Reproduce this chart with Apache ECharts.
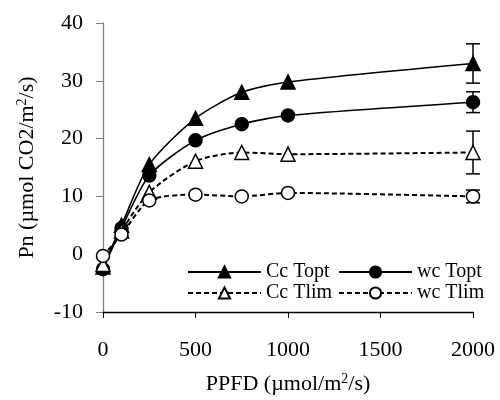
<!DOCTYPE html>
<html>
<head>
<meta charset="utf-8">
<script src="https://cdn.jsdelivr.net/npm/echarts@6/dist/echarts.min.js"></script>
<style>
html,body{margin:0;padding:0;background:#fff;}
#chart{width:500px;height:400px;}
</style>
</head>
<body>
<div id="chart"></div>
<script>
// ---- data ----
const ppfd = [0, 100, 250, 500, 750, 1000, 2000];
const ccTopt = [-2.2, 5, 15.5, 23.5, 28, 29.8, 33];
const wcTopt = [-2.6, 4.5, 13.6, 19.7, 22.5, 24, 26.3];
const ccTlim = [-1.8, 4, 10.7, 16.1, 17.6, 17.3, 17.6];
const wcTlim = [-0.3, 3.4, 9.3, 10.3, 10, 10.6, 10];
const ccToptErr = [null, null, null, null, null, null, 3.4];
const wcToptErr = [null, null, null, null, null, null, 1.8];
const ccTlimErr = [null, null, null, null, null, null, 3.7];
const wcTlimErr = [null, null, null, null, null, null, 1.1];
const seriesNames = ['Cc Topt', 'wc Topt', 'Cc Tlim', 'wc Tlim'];
const xTicks = [0, 500, 1000, 1500, 2000];
const yTicks = [-10, 0, 10, 20, 30, 40];

const FONT = 'Liberation Serif';
const pairs = v => ppfd.map((x, i) => [x, v[i]]);

const errData = [];
[[ccTopt, ccToptErr], [wcTopt, wcToptErr], [ccTlim, ccTlimErr], [wcTlim, wcTlimErr]].forEach(([v, e]) => {
  ppfd.forEach((x, i) => { if (e[i] != null) errData.push([x, v[i] - e[i], v[i] + e[i]]); });
});

const solid = { color: '#000', width: 1.6, type: 'solid' };
const dashed = { color: '#000', width: 2, type: [5, 3] };

function lineSeries(name, vals, symbol, filled, ls) {
  return {
    name, type: 'line', data: pairs(vals), smooth: 0.25,
    symbol, symbolSize: symbol === 'triangle' ? 14 : 13,
    showAllSymbol: true, z: 3,
    lineStyle: ls,
    itemStyle: { color: filled ? '#000' : '#fff', borderColor: '#000', borderWidth: 1.5 },
    emphasis: { disabled: true }
  };
}

function legendAt(name, left, top) {
  return {
    data: [name], left, top, itemWidth: 73, itemHeight: 14, itemGap: 0,
    textStyle: { fontFamily: FONT, fontSize: 20, color: '#000' },
    selectedMode: false
  };
}

const supStyle = { fontFamily: FONT, fontSize: 14, verticalAlign: 'top', padding: [0, 0, 10, 0], color: '#000' };

const chart = echarts.init(document.getElementById('chart'), null, { renderer: 'canvas' });
chart.setOption({
  animation: false,
  backgroundColor: '#fff',
  grid: { left: 103, right: 27, top: 23, bottom: 82 },
  legend: [
    legendAt(seriesNames[0], 182, 257),
    legendAt(seriesNames[1], 333, 257),
    legendAt(seriesNames[2], 182, 278),
    legendAt(seriesNames[3], 333, 278)
  ],
  xAxis: {
    type: 'value', min: xTicks[0], max: xTicks[xTicks.length - 1], interval: 500,
    name: 'PPFD (µmol/m{sup|2}/s)', nameLocation: 'middle', nameGap: 60,
    nameTextStyle: { fontFamily: FONT, fontSize: 22, color: '#000', rich: { sup: supStyle } },
    axisLine: { show: true, onZero: false, lineStyle: { color: '#000', width: 1.3 } },
    axisTick: { show: true, length: 6, lineStyle: { color: '#000', width: 1 } },
    axisLabel: { fontFamily: FONT, fontSize: 22, color: '#000', margin: 27, formatter: v => String(v) },
    splitLine: { show: false }
  },
  yAxis: {
    type: 'value', min: yTicks[0], max: yTicks[yTicks.length - 1], interval: 10,
    name: 'Pn (µmol CO2/m{sup|2}/s)', nameLocation: 'middle', nameGap: 64,
    nameTextStyle: { fontFamily: FONT, fontSize: 22, color: '#000', rich: { sup: supStyle } },
    axisLine: { show: true, onZero: false, lineStyle: { color: '#808080', width: 1.3 } },
    axisTick: { show: true, length: 7, lineStyle: { color: '#808080', width: 1 } },
    axisLabel: { fontFamily: FONT, fontSize: 22, color: '#000', margin: 20 },
    splitLine: { show: false }
  },
  series: [
    {
      type: 'custom', name: 'err', z: 1, silent: true,
      data: errData,
      renderItem: function (params, api) {
        const x = api.value(0);
        const lo = api.coord([x, api.value(1)]);
        const hi = api.coord([x, api.value(2)]);
        const w = 7;
        const st = { stroke: '#000', lineWidth: 1.5, fill: null };
        return {
          type: 'group', children: [
            { type: 'line', shape: { x1: lo[0], y1: lo[1], x2: hi[0], y2: hi[1] }, style: st },
            { type: 'line', shape: { x1: lo[0] - w, y1: lo[1], x2: lo[0] + w, y2: lo[1] }, style: st },
            { type: 'line', shape: { x1: hi[0] - w, y1: hi[1], x2: hi[0] + w, y2: hi[1] }, style: st }
          ]
        };
      }
    },
    lineSeries(seriesNames[0], ccTopt, 'triangle', true, solid),
    lineSeries(seriesNames[1], wcTopt, 'circle', true, solid),
    lineSeries(seriesNames[2], ccTlim, 'triangle', false, dashed),
    lineSeries(seriesNames[3], wcTlim, 'circle', false, dashed)
  ]
});
</script>
</body>
</html>
